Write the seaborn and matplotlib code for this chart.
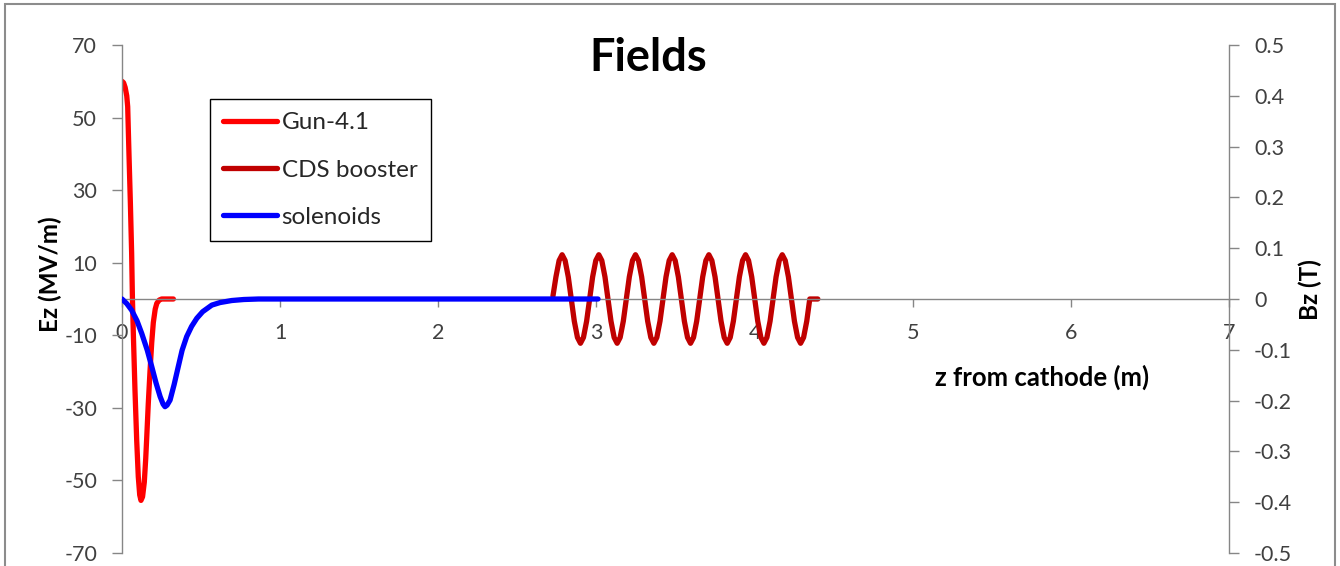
import matplotlib
matplotlib.use("Agg")
import matplotlib.pyplot as plt
import matplotlib.patches as mpatches
import seaborn as sns
import pandas as pd

# ---------------- data ----------------
gun_z = [0.000, 0.010, 0.020, 0.030, 0.036, 0.044, 0.053, 0.061, 0.066, 0.072,
         0.082, 0.093, 0.103, 0.112, 0.120, 0.130, 0.141, 0.150, 0.156, 0.166,
         0.177, 0.188, 0.198, 0.210, 0.220, 0.235, 0.251, 0.325]
gun_ez = [60.0, 59.6, 58.3, 56.0, 53.0, 40.1, 26.4, 12.6, 0.0, -10.0,
          -25.0, -39.0, -49.0, -54.0, -55.5, -54.5, -50.5, -44.0, -38.5, -29.0,
          -20.0, -12.0, -6.5, -2.8, -1.2, -0.3, 0.0, 0.0]

booster_z = [2.725, 2.744, 2.764, 2.783, 2.802, 2.822, 2.841, 2.860, 2.880, 2.899, 2.918, 2.938,
             2.957, 2.976, 2.996, 3.015, 3.034, 3.054, 3.073, 3.092, 3.112, 3.131, 3.150, 3.170,
             3.189, 3.208, 3.228, 3.247, 3.266, 3.286, 3.305, 3.324, 3.344, 3.363, 3.382, 3.402,
             3.421, 3.440, 3.460, 3.479, 3.498, 3.518, 3.537, 3.556, 3.576, 3.595, 3.614, 3.634,
             3.653, 3.672, 3.692, 3.711, 3.730, 3.750, 3.769, 3.788, 3.808, 3.827, 3.846, 3.866,
             3.885, 3.904, 3.924, 3.943, 3.962, 3.982, 4.001, 4.020, 4.040, 4.059, 4.078, 4.098,
             4.117, 4.136, 4.156, 4.175, 4.194, 4.214, 4.233, 4.252, 4.272, 4.291, 4.310, 4.330,
             4.349, 4.400]
booster_ez = [0.8, 6.1, 10.6, 12.2, 10.6, 6.1, 0.0, -6.1, -10.6, -12.2, -10.6, -6.1,
              0.0, 6.1, 10.6, 12.2, 10.6, 6.1, 0.0, -6.1, -10.6, -12.2, -10.6, -6.1,
              0.0, 6.1, 10.6, 12.2, 10.6, 6.1, 0.0, -6.1, -10.6, -12.2, -10.6, -6.1,
              0.0, 6.1, 10.6, 12.2, 10.6, 6.1, 0.0, -6.1, -10.6, -12.2, -10.6, -6.1,
              0.0, 6.1, 10.6, 12.2, 10.6, 6.1, 0.0, -6.1, -10.6, -12.2, -10.6, -6.1,
              0.0, 6.1, 10.6, 12.2, 10.6, 6.1, 0.0, -6.1, -10.6, -12.2, -10.6, -6.1,
              0.0, 6.1, 10.6, 12.2, 10.6, 6.1, 0.0, -6.1, -10.6, -12.2, -10.6, -6.1,
              0.0, 0.0]

sol_z = [0.000, 0.030, 0.061, 0.095, 0.125, 0.160, 0.188, 0.215, 0.241, 0.260,
         0.272, 0.285, 0.304, 0.330, 0.356, 0.380, 0.409, 0.440, 0.473, 0.510,
         0.568, 0.620, 0.694, 0.770, 0.863, 3.010]
sol_bz = [0.000, -0.009, -0.022, -0.043, -0.068, -0.101, -0.133, -0.165, -0.192, -0.207,
          -0.212, -0.209, -0.199, -0.168, -0.133, -0.101, -0.074, -0.054, -0.038, -0.025,
          -0.012, -0.007, -0.003, -0.001, 0.000, 0.000]

series_names = ["Gun-4.1", "CDS booster", "solenoids"]
series_colors = ["#FF0000", "#C00000", "#0000FF"]

left_ticks = [-70, -50, -30, -10, 10, 30, 50, 70]
right_ticks = [-0.5, -0.4, -0.3, -0.2, -0.1, 0, 0.1, 0.2, 0.3, 0.4, 0.5]
right_tick_labels = ["-0.5", "-0.4", "-0.3", "-0.2", "-0.1", "0", "0.1", "0.2", "0.3", "0.4", "0.5"]
x_ticks = [0, 1, 2, 3, 4, 5, 6, 7]

title_text = "Fields"
xlabel_text = "z from cathode (m)"
ylabel_left = "Ez (MV/m)"
ylabel_right = "Bz (T)"

# ---------------- style ----------------
sns.set_style("white")
plt.rcParams["font.family"] = ["Lato", "DejaVu Sans"]
plt.rcParams["axes.unicode_minus"] = False

W, H = 1340, 566
fig = plt.figure(figsize=(W / 100, H / 100), dpi=100)

def fx(px):
    return px / W

def fy(py):
    return 1 - py / H

ax_l, ax_r, ax_t, ax_b = 122, 1229, 45, 553
ax = fig.add_axes([fx(ax_l), fy(ax_b), (ax_r - ax_l) / W, (ax_b - ax_t) / H])
ax2 = ax.twinx()

gray = "#868686"
tick_color = "#404040"
lw = 3.8

df_gun = pd.DataFrame({"z": gun_z, "v": gun_ez})
df_boo = pd.DataFrame({"z": booster_z, "v": booster_ez})
df_sol = pd.DataFrame({"z": sol_z, "v": sol_bz})

sns.lineplot(data=df_gun, x="z", y="v", ax=ax, color=series_colors[0], lw=lw,
             label=series_names[0], sort=False, legend=False,
             solid_capstyle="round", solid_joinstyle="round")
sns.lineplot(data=df_boo, x="z", y="v", ax=ax, color=series_colors[1], lw=lw,
             label=series_names[1], sort=False, legend=False,
             solid_capstyle="round", solid_joinstyle="round")
sns.lineplot(data=df_sol, x="z", y="v", ax=ax2, color=series_colors[2], lw=lw,
             label=series_names[2], sort=False, legend=False,
             solid_capstyle="round", solid_joinstyle="round")

ax.set_xlim(0, 7)
ax.set_ylim(-70, 70)
ax2.set_ylim(-0.5, 0.5)

# spines
for s in ["top", "right"]:
    ax.spines[s].set_visible(False)
ax.spines["left"].set_color(gray)
ax.spines["bottom"].set_color(gray)
ax.spines["left"].set_linewidth(1.0)
ax.spines["bottom"].set_linewidth(1.0)
ax.spines["bottom"].set_position(("data", 0))
for s in ["top", "left", "bottom"]:
    ax2.spines[s].set_visible(False)
ax2.spines["right"].set_color(gray)
ax2.spines["right"].set_linewidth(1.0)

ax.set_xticks(x_ticks)
ax.set_xticklabels([str(t) for t in x_ticks])
ax.set_yticks(left_ticks)
ax.set_yticklabels([str(t) for t in left_ticks])
ax2.set_yticks(right_ticks)
ax2.set_yticklabels(right_tick_labels)

ax.tick_params(axis="x", direction="out", length=6, width=1, color=gray,
               labelsize=15.5, labelcolor=tick_color, pad=11, bottom=True)
ax.tick_params(axis="y", direction="out", length=7, width=1, color=gray,
               labelsize=15.5, labelcolor=tick_color, pad=11, left=True)
ax2.tick_params(axis="y", direction="out", length=7, width=1, color=gray,
                labelsize=15.5, labelcolor=tick_color, pad=11, right=True)
ax.set_xlabel("")
ax.set_ylabel("")
ax2.set_ylabel("")
ax.grid(False)
ax2.grid(False)

# texts
fig.text(fx(648), fy(58), title_text, ha="center", va="center",
         fontsize=32.5, fontweight="bold", color="black")
fig.text(fx(1042), fy(377), xlabel_text, ha="center", va="center",
         fontsize=18.5, fontweight="bold", color="black")
fig.text(fx(50), fy(274), ylabel_left, ha="center", va="center", rotation=90,
         fontsize=17.5, fontweight="bold", color="black")
fig.text(fx(1310), fy(290), ylabel_right, ha="center", va="center", rotation=90,
         fontsize=17.5, fontweight="bold", color="black")

# legend
h1, l1 = ax.get_legend_handles_labels()
h2, l2 = ax2.get_legend_handles_labels()
leg = ax2.legend(h1 + h2, l1 + l2, loc="upper left",
                 bbox_to_anchor=(fx(210), fy(99)), bbox_transform=fig.transFigure,
                 borderaxespad=0, frameon=True, fancybox=False, framealpha=1,
                 edgecolor="black", fontsize=17.5, handlelength=2.2,
                 handletextpad=0.2, labelspacing=1.08, borderpad=0.55)
leg.get_frame().set_linewidth(1.0)
for t in leg.get_texts():
    t.set_color("#262626")

# chart area border
fig.patches.append(mpatches.Rectangle((fx(5), -0.1), fx(1335) - fx(5), fy(4) + 0.1,
                                      transform=fig.transFigure, fill=False,
                                      edgecolor="#8c8c8c", linewidth=1.5, zorder=10))

fig.savefig("out.png", dpi=100)
